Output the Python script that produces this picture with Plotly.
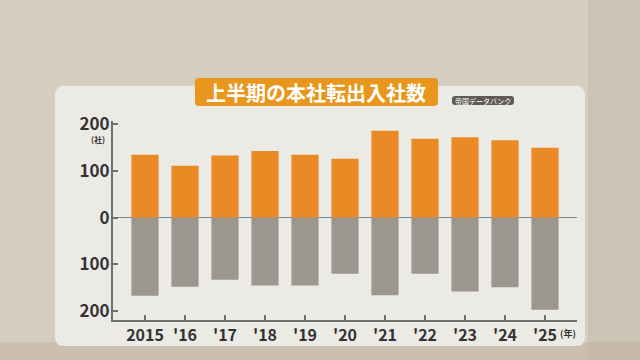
import plotly.graph_objects as go

years = ["2015", "'16", "'17", "'18", "'19", "'20", "'21", "'22", "'23", "'24", "'25"]
inflow = [135, 111, 133, 143, 135, 126, 186, 169, 172, 166, 150]
outflow = [167, 148, 133, 145, 145, 120, 166, 120, 158, 149, 197]
ytick_vals = [-200, -100, 0, 100, 200]
ytick_text = ["200", "100", "0", "100", "200"]

W, H = 640, 360
FONT = "Noto Sans CJK JP"

def px(x):
    return x / W

def py(y):
    return 1 - y / H

def rrect(x0, y0, x1, y1, r):
    return (
        f"M {px(x0 + r)} {py(y0)} L {px(x1 - r)} {py(y0)} "
        f"Q {px(x1)} {py(y0)} {px(x1)} {py(y0 + r)} "
        f"L {px(x1)} {py(y1 - r)} Q {px(x1)} {py(y1)} {px(x1 - r)} {py(y1)} "
        f"L {px(x0 + r)} {py(y1)} Q {px(x0)} {py(y1)} {px(x0)} {py(y1 - r)} "
        f"L {px(x0)} {py(y0 + r)} Q {px(x0)} {py(y0)} {px(x0 + r)} {py(y0)} Z"
    )

fig = go.Figure()
fig.add_trace(go.Bar(x=years, y=inflow, name="転入", marker=dict(color="#E98A24", line=dict(width=0))))
fig.add_trace(go.Bar(x=years, y=[-v for v in outflow], name="転出", marker=dict(color="#9C978E", line=dict(width=0))))

shapes = [
    dict(type="rect", xref="paper", yref="paper", x0=0, x1=1, y0=0, y1=py(342),
         fillcolor="#CDBFAE", line=dict(width=0), layer="below"),
    dict(type="rect", xref="paper", yref="paper", x0=px(588), x1=1, y0=0, y1=1,
         fillcolor="rgba(185,172,152,0.25)", line=dict(width=0), layer="below"),
    dict(type="path", xref="paper", yref="paper", path=rrect(55, 86, 585, 346, 9),
         fillcolor="#ECEAE5", line=dict(width=0), layer="below"),
    dict(type="path", xref="paper", yref="paper", path=rrect(195, 78, 438, 106, 4),
         fillcolor="#E8961C", line=dict(width=0), layer="above"),
    dict(type="path", xref="paper", yref="paper", path=rrect(452, 96, 514, 105, 3),
         fillcolor="#5E5B57", line=dict(width=0), layer="above"),
]

annotations = [
    dict(text="上半期の本社転出入社数", xref="paper", yref="paper", x=px(316), y=py(92),
         showarrow=False, font=dict(family=FONT, size=20, color="white", weight="bold"),
         xanchor="center", yanchor="middle"),
    dict(text="帝国データバンク", xref="paper", yref="paper", x=px(483), y=py(100.5),
         showarrow=False, font=dict(family=FONT, size=7, color="white"),
         xanchor="center", yanchor="middle"),
    dict(text="(社)", xref="paper", yref="paper", x=px(98), y=py(139),
         showarrow=False, font=dict(family=FONT, size=8, color="#333333", weight="bold"),
         xanchor="center", yanchor="middle"),
    dict(text="(年)", xref="paper", yref="paper", x=px(568), y=py(333),
         showarrow=False, font=dict(family=FONT, size=9, color="#333333", weight="bold"),
         xanchor="center", yanchor="middle"),
]

fig.update_layout(
    width=W, height=H, autosize=False,
    margin=dict(l=0, r=0, t=0, b=0, pad=0),
    paper_bgcolor="#D6CDC1",
    plot_bgcolor="rgba(0,0,0,0)",
    barmode="relative",
    bargap=0.32,
    showlegend=False,
    shapes=shapes,
    annotations=annotations,
    font=dict(family=FONT, color="#333333"),
    xaxis=dict(
        domain=[px(113), px(577)],
        range=[-0.8, 10.8],
        automargin=False,
        showline=True, linecolor="#6E6E6E", linewidth=2,
        ticks="inside", ticklen=5, tickcolor="#6E6E6E", tickwidth=1.5,
        tickfont=dict(family=FONT, size=16, color="#333333", weight="bold"),
        showgrid=False, zeroline=False,
    ),
    yaxis=dict(
        domain=[py(320), py(121)],
        range=[-219, 207],
        automargin=False,
        showline=True, linecolor="#6E6E6E", linewidth=2,
        ticks="inside", ticklen=5, tickcolor="#6E6E6E", tickwidth=1.5,
        tickvals=ytick_vals, ticktext=ytick_text,
        tickfont=dict(family=FONT, size=17, color="#333333", weight="bold"),
        ticklabelstandoff=-2,
        showgrid=False,
        zeroline=True, zerolinecolor="#7C8A90", zerolinewidth=1,
    ),
)

fig.write_html("out.html", config={"displayModeBar": False},
               post_script="document.body.style.margin='0';document.body.style.overflow='hidden';")
